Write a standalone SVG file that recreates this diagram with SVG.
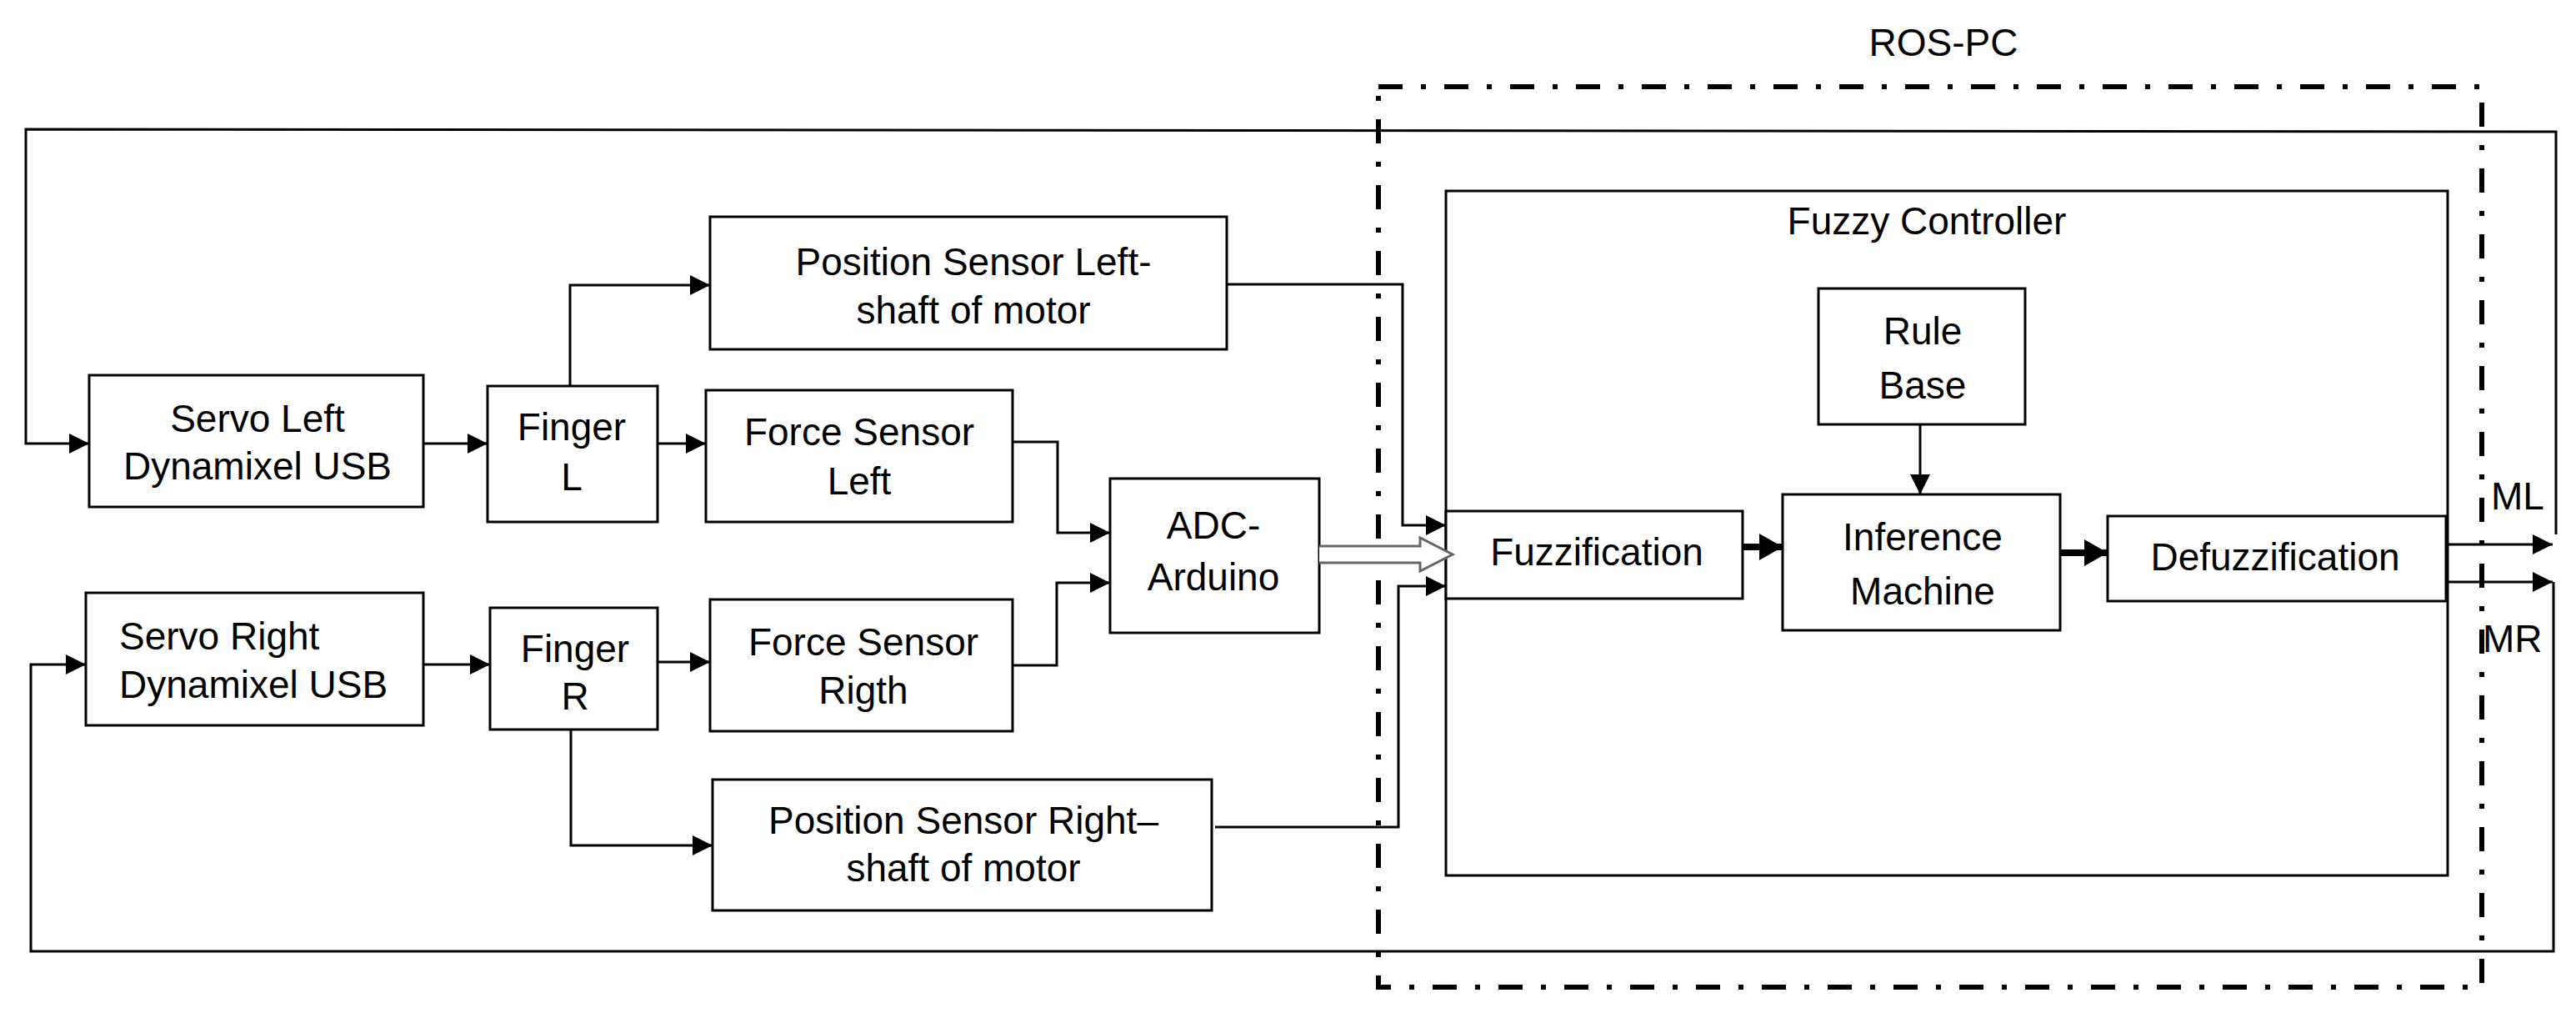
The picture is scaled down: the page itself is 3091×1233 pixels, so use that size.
<svg xmlns="http://www.w3.org/2000/svg" width="3091" height="1233" viewBox="0 0 3091 1233">
<defs>
<marker id="ah" markerWidth="26" markerHeight="26" refX="24" refY="12" orient="auto" markerUnits="userSpaceOnUse"><path d="M0,0 L24,12 L0,24 Z" fill="#000"/></marker>
<marker id="ahb" markerWidth="30" markerHeight="34" refX="28" refY="16" orient="auto" markerUnits="userSpaceOnUse"><path d="M0,0 L28,16 L0,32 Z" fill="#000"/></marker>
</defs>
<style>
.b{fill:#fff;stroke:#000;stroke-width:3}
.t{font-family:"Liberation Sans Narrow","Liberation Sans",Arial,sans-serif;font-size:46px;fill:#000;text-anchor:middle}
.l{fill:none;stroke:#000;stroke-width:3}
.bold{fill:none;stroke:#000;stroke-width:8}
</style>
<rect width="3091" height="1233" fill="#fff"/>
<g id="ros-pc">
<rect x="1654" y="104" width="1324" height="1080" fill="none" stroke="#000" stroke-width="6" stroke-dasharray="29 22 6 22"/>
<text class="t" x="2332" y="67">ROS-PC</text>
</g>
<g id="fuzzy-controller">
<rect class="b" x="1735" y="229" width="1202" height="821"/>
<text class="t" x="2312" y="281">Fuzzy Controller</text>
</g>
<g id="servo-left"><rect class="b" x="107" y="450" width="401" height="158"/><text class="t" x="309" y="518">Servo Left</text><text class="t" x="309" y="575">Dynamixel USB</text></g>
<g id="finger-l"><rect class="b" x="585" y="463" width="204" height="163"/><text class="t" x="686" y="528">Finger</text><text class="t" x="686" y="588">L</text></g>
<g id="pos-left"><rect class="b" x="852" y="260" width="620" height="159"/><text class="t" x="1168" y="330">Position Sensor Left-</text><text class="t" x="1168" y="388">shaft of motor</text></g>
<g id="force-left"><rect class="b" x="847" y="468" width="368" height="158"/><text class="t" x="1031" y="534">Force Sensor</text><text class="t" x="1031" y="593">Left</text></g>
<g id="adc"><rect class="b" x="1332" y="574" width="251" height="185"/><text class="t" x="1456" y="646">ADC-</text><text class="t" x="1456" y="708">Arduino</text></g>
<g id="servo-right"><rect class="b" x="103" y="711" width="405" height="159"/><text class="t" x="143" y="779" style="text-anchor:start">Servo Right</text><text class="t" x="143" y="837" style="text-anchor:start">Dynamixel USB</text></g>
<g id="finger-r"><rect class="b" x="588" y="729" width="201" height="146"/><text class="t" x="690" y="794">Finger</text><text class="t" x="690" y="851">R</text></g>
<g id="force-right"><rect class="b" x="852" y="719" width="363" height="158"/><text class="t" x="1036" y="786">Force Sensor</text><text class="t" x="1036" y="844">Rigth</text></g>
<g id="pos-right"><rect class="b" x="855" y="935" width="599" height="157"/><text class="t" x="1156" y="1000">Position Sensor Right–</text><text class="t" x="1156" y="1057">shaft of motor</text></g>
<g id="rule-base"><rect class="b" x="2182" y="346" width="248" height="163"/><text class="t" x="2307" y="413">Rule</text><text class="t" x="2307" y="478">Base</text></g>
<g id="fuzzification"><rect class="b" x="1735" y="613" width="356" height="105"/><text class="t" x="1916" y="678">Fuzzification</text></g>
<g id="inference"><rect class="b" x="2139" y="593" width="333" height="163"/><text class="t" x="2307" y="660">Inference</text><text class="t" x="2307" y="725">Machine</text></g>
<g id="defuzzification"><rect class="b" x="2529" y="619" width="406" height="102"/><text class="t" x="2730" y="684">Defuzzification</text></g>
<g id="connectors">
<polyline class="l" points="3067,641 3067,158 31,155 31,532 107,532" marker-end="url(#ah)"/>
<polyline class="l" points="3064,698 3064,1141 37,1141 37,797 103,797" marker-end="url(#ah)"/>
<line class="l" x1="508" y1="532" x2="585" y2="532" marker-end="url(#ah)"/>
<line class="l" x1="789" y1="532" x2="847" y2="532" marker-end="url(#ah)"/>
<polyline class="l" points="684,463 684,342 852,342" marker-end="url(#ah)"/>
<line class="l" x1="508" y1="797" x2="588" y2="797" marker-end="url(#ah)"/>
<line class="l" x1="789" y1="794" x2="852" y2="794" marker-end="url(#ah)"/>
<polyline class="l" points="685,875 685,1014 855,1014" marker-end="url(#ah)"/>
<polyline class="l" points="1215,530 1269,530 1269,639 1332,639" marker-end="url(#ah)"/>
<polyline class="l" points="1215,798 1268,798 1268,699 1332,699" marker-end="url(#ah)"/>
<polyline class="l" points="1472,341 1683,341 1683,630 1735,630" marker-end="url(#ah)"/>
<polyline class="l" points="1458,992 1678,992 1678,703 1735,703" marker-end="url(#ah)"/>
<path d="M1583,655 L1704,655 L1704,645 L1743,665 L1704,685 L1704,675 L1583,675" fill="#fff" stroke="#666" stroke-width="3"/>
<line class="l" x1="2304" y1="509" x2="2304" y2="593" stroke-width="4" marker-end="url(#ah)"/>
<line class="bold" x1="2091" y1="656" x2="2139" y2="656" marker-end="url(#ahb)"/>
<line class="bold" x1="2472" y1="663" x2="2529" y2="663" marker-end="url(#ahb)"/>
<line class="l" x1="2935" y1="653" x2="3063" y2="653" marker-end="url(#ah)"/>
<line class="l" x1="2935" y1="698" x2="3063" y2="698" marker-end="url(#ah)"/>
</g>
<text class="t" x="2989" y="611" style="text-anchor:start">ML</text>
<text class="t" x="2979" y="782" style="text-anchor:start">MR</text>
</svg>
